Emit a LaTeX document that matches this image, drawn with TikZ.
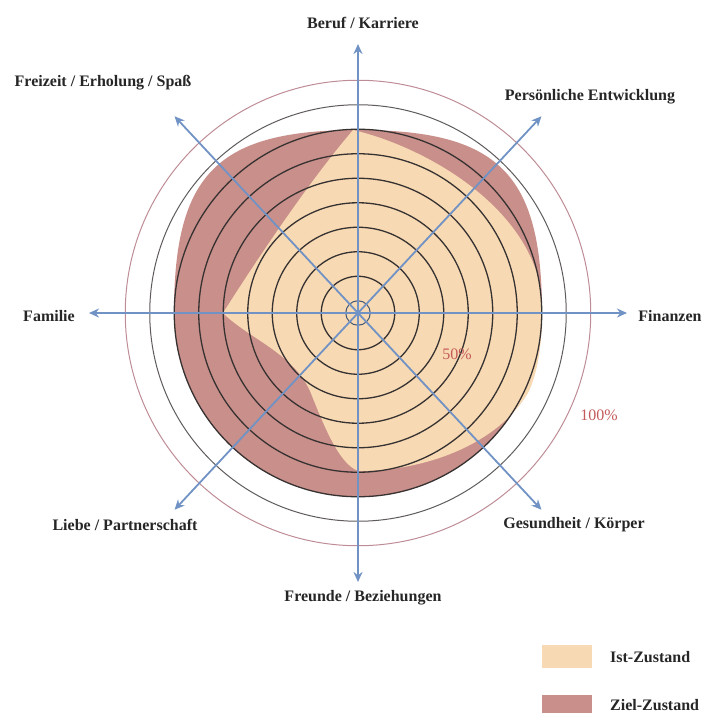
\documentclass[tikz,border=0pt]{standalone}
\usepackage{fontspec}
\setmainfont{Liberation Serif}
\usetikzlibrary{arrows.meta}

\definecolor{istfill}{RGB}{247,217,179}
\definecolor{zielfill}{RGB}{201,143,138}
\definecolor{axisblue}{RGB}{112,146,196}
\definecolor{ringdark}{RGB}{55,50,50}
\definecolor{ringouter}{RGB}{190,140,150}
\definecolor{percentred}{RGB}{196,90,90}

\tikzset{
	area label/.style = {font = \fontsize{16}{19}\selectfont\bfseries, text = black!85, inner sep = 0pt},
	percent label/.style = {font = \fontsize{16}{19}\selectfont, text = percentred, inner sep = 0pt},
	swatch/.style = {minimum width = 50pt, minimum height = 23pt, inner sep = 0pt},
	ring/.style = {draw = ringdark, line width = 1.3pt},
	axis/.style = {->, draw = axisblue, line width = 1.8pt}
}

\begin{document}
\begin{tikzpicture}[x = 1pt, y = 1pt, > = {Stealth[length = 10pt, width = 9pt]}]

	\useasboundingbox (-358, -400) rectangle (346, 313);

	% Target state (Ziel-Zustand)

	\fill [zielfill] (-184, 0) .. controls (-184, 140) and (-140, 183) .. (0, 183)
		.. controls (140, 183) and (184, 140) .. (184, 0)
		arc [start angle = 0, end angle = -180, radius = 184] -- cycle;

	% Current state (Ist-Zustand)

	\fill [istfill] (-5, 183) .. controls (-50, 130) and (-100, 55) .. (-135, 0)
		.. controls (-110, -25) and (-65, -40) .. (-48, -78)
		.. controls (-35, -110) and (-20, -150) .. (0, -158)
		.. controls (70, -158) and (140, -130) .. (170, -80)
		.. controls (180, -60) and (184, -30) .. (184, 0)
		arc [start angle = 0, end angle = 10, radius = 184]
		.. controls (160, 115) and (60, 168) .. (-5, 183) -- cycle;

	% Rings

	\draw [axisblue!60!black, line width = 1pt] (0, 0) circle [radius = 12.25];
	\foreach \k in {1, ..., 7}
		\draw [ring] (0, 0) circle [radius = \k * 24.5 + 12.25];
	\draw [ringdark!80, line width = 1pt] (0, 0) circle [radius = 208.25];
	\draw [ringouter, line width = 1pt] (0, 0) circle [radius = 232.75];

	% Axes

	\coordinate (centre) at (0, 0);
	\foreach \a in {0, 47, 90, 133, 180, 227, 270, 313}
	{
		\coordinate (tip-\a) at (\a : 269);
		\draw [axis] (centre) -- (tip-\a);
	}

	% Area labels

	\node (beruf) [area label] at (5, 290) {Beruf / Karriere};
	\node (persoenlich) [area label] at (232, 216) {Persönliche Entwicklung};
	\node (finanzen) [area label] at (312, -3) {Finanzen};
	\node (gesundheit) [area label] at (216, -212) {Gesundheit / Körper};
	\node (freunde) [area label] at (5, -285) {Freunde / Beziehungen};
	\node (liebe) [area label] at (-233, -212) {Liebe / Partnerschaft};
	\node (familie) [area label] at (-309, -3) {Familie};
	\node (freizeit) [area label] at (-255, 230) {Freizeit / Erholung / Spaß};

	% Percent labels

	\node (half) [percent label] at (99, -41) {50\%};
	\node (full) [percent label] at (241, -102) {100\%};

	% Legend

	\node (ist-swatch) [swatch, fill = istfill] at (209, -343.5) {};
	\node (ist-label) [area label, anchor = west] at (252, -344) {Ist-Zustand};
	\node (ziel-swatch) [swatch, fill = zielfill] at (209, -393) {};
	\node (ziel-label) [area label, anchor = west] at (252, -392) {Ziel-Zustand};

\end{tikzpicture}
\end{document}
